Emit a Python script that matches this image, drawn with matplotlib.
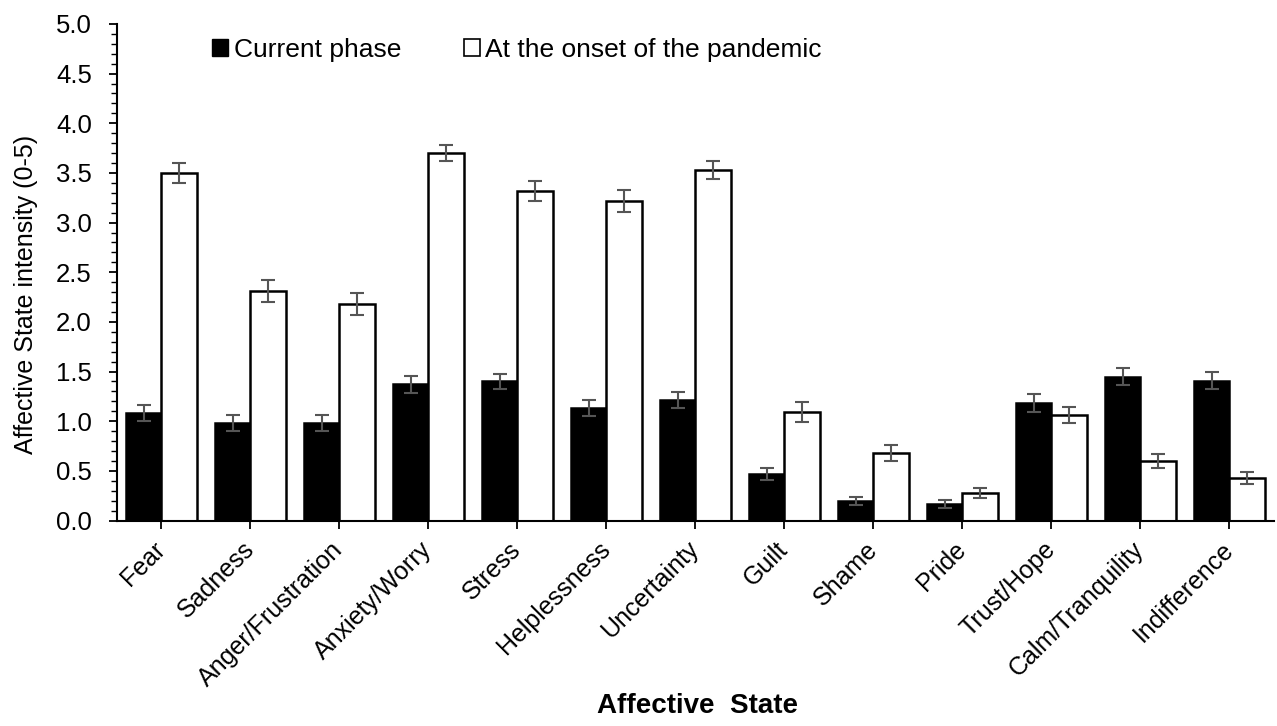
import matplotlib.pyplot as plt
import numpy as np
from matplotlib.patches import Patch
from matplotlib.ticker import MultipleLocator

plt.rcParams['font.family'] = ['Liberation Sans', 'DejaVu Sans']

# Données
etats = ['Fear', 'Sadness', 'Anger/Frustration', 'Anxiety/Worry', 'Stress',
         'Helplessness', 'Uncertainty', 'Guilt', 'Shame', 'Pride',
         'Trust/Hope', 'Calm/Tranquility', 'Indifference']
actuel = [1.08, 0.98, 0.98, 1.37, 1.40, 1.13, 1.21, 0.47, 0.20, 0.17, 1.18, 1.45, 1.41]
actuel_err = [0.08, 0.08, 0.08, 0.09, 0.08, 0.08, 0.08, 0.06, 0.04, 0.04, 0.09, 0.09, 0.09]
debut = [3.50, 2.31, 2.18, 3.70, 3.32, 3.22, 3.53, 1.09, 0.68, 0.28, 1.06, 0.60, 0.43]
debut_err = [0.10, 0.11, 0.11, 0.08, 0.10, 0.11, 0.09, 0.10, 0.08, 0.05, 0.08, 0.07, 0.06]

x = np.arange(len(etats))
w = 0.4

fig = plt.figure(figsize=(12.77, 7.26), dpi=100)
ax = fig.add_axes([0.0916, 0.283, 0.906, 0.684])

err_kw = dict(ecolor='#555555', elinewidth=1.5, capsize=5, capthick=1.5)
ax.bar(x - w / 2, actuel, w, color='black', edgecolor='black', linewidth=1.8,
       yerr=actuel_err, error_kw=err_kw)
ax.bar(x + w / 2, debut, w, color='white', edgecolor='black', linewidth=1.8,
       yerr=debut_err, error_kw=err_kw)

ax.set_xlim(-0.5, len(etats) - 0.5)
ax.set_ylim(0, 5)
ax.yaxis.set_major_locator(MultipleLocator(0.5))
ax.yaxis.set_minor_locator(MultipleLocator(0.1))
ax.yaxis.set_major_formatter(plt.FormatStrFormatter('%.1f'))
ax.set_xticks(x)
ax.set_xticklabels(etats, rotation=45, ha='right', va='center',
                   rotation_mode='anchor', fontsize=18)
ax.tick_params(axis='y', which='major', labelsize=18.5, length=6, width=1.3, pad=12)
ax.tick_params(axis='y', which='minor', length=4, width=1.0)
ax.tick_params(axis='x', length=6, width=1.3, pad=12)

for s in ['top', 'right']:
    ax.spines[s].set_visible(False)
for s in ['left', 'bottom']:
    ax.spines[s].set_linewidth(1.5)

fig.text(0.02, 1 - 294 / 726, 'Affective State intensity (0-5)', rotation=90,
         ha='center', va='center', fontsize=18)
fig.text(0.546, 0.018, 'Affective  State', ha='center', fontsize=20, fontweight='bold')

handles = [Patch(facecolor='black', edgecolor='black'),
           Patch(facecolor='white', edgecolor='black', linewidth=1.2)]
ax.legend(handles, ['Current phase', 'At the onset of the pandemic'], ncol=2,
          frameon=False, fontsize=19, loc='upper left', bbox_to_anchor=(0.062, 1.02),
          handlelength=0.6, handleheight=0.6, handletextpad=0.2, columnspacing=2.4)

fig.savefig('out.png', dpi=100)
